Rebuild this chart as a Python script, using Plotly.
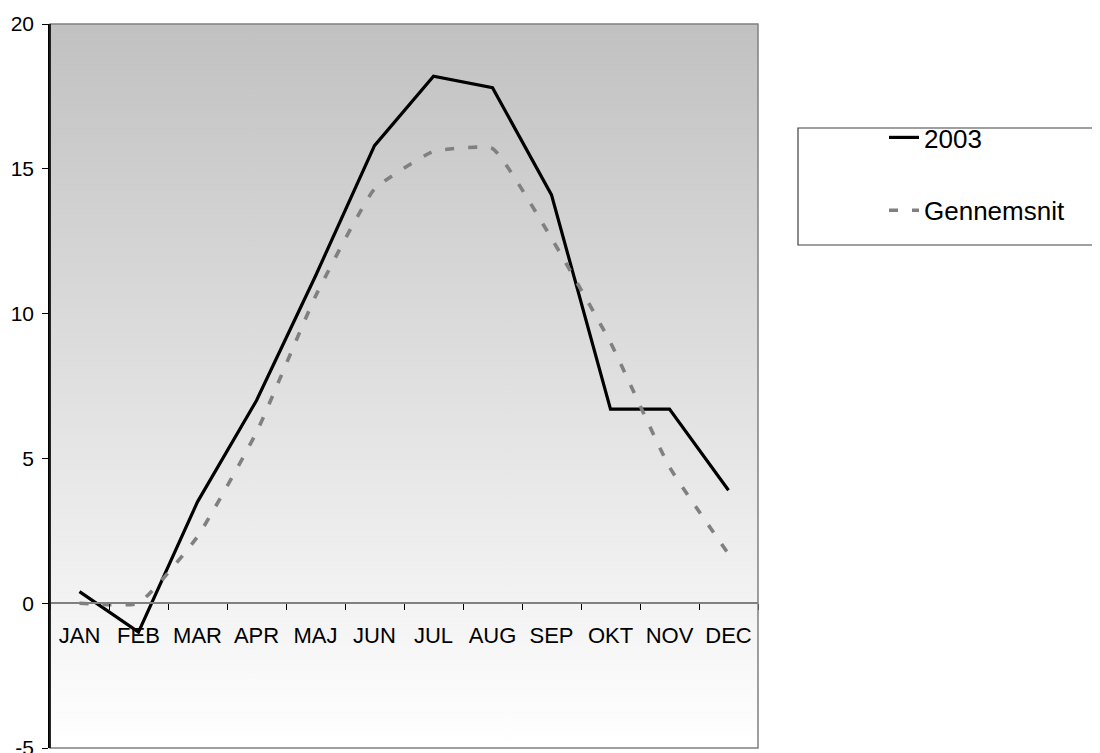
import base64
import plotly.graph_objects as go

months = ["JAN", "FEB", "MAR", "APR", "MAJ", "JUN", "JUL", "AUG", "SEP", "OKT", "NOV", "DEC"]
values_2003 = [0.4, -1.0, 3.5, 7.0, 11.3, 15.8, 18.2, 17.8, 14.1, 6.7, 6.7, 3.9]
values_avg = [0.0, 0.0, 2.3, 5.9, 10.6, 14.3, 15.6, 15.7, 12.6, 9.0, 4.7, 1.7]
y_ticks = [-5, 0, 5, 10, 15, 20]
y_tick_labels = ["-5", "0", "5", "10", "15", "20"]
name_2003 = "2003"
name_avg = "Gennemsnit"

FONT = "Liberation Sans, Arial, sans-serif"

svg = ('<svg xmlns="http://www.w3.org/2000/svg" width="100" height="100" preserveAspectRatio="none">'
       '<defs><linearGradient id="g" x1="0" y1="0" x2="0" y2="1">'
       '<stop offset="0" stop-color="#c1c1c1"/><stop offset="1" stop-color="#ffffff"/>'
       '</linearGradient></defs><rect width="100" height="100" fill="url(#g)"/></svg>')
svg_uri = "data:image/svg+xml;base64," + base64.b64encode(svg.encode()).decode()

fig = go.Figure()
fig.add_trace(go.Scatter(
    x=months, y=values_2003, name=name_2003, mode="lines",
    line=dict(color="#000000", width=3.2), legendgroup="a",
))
fig.add_trace(go.Scatter(
    x=months, y=values_avg, name=name_avg, mode="lines",
    line=dict(color="#808080", width=3.6, dash="9px,14px", shape="spline", smoothing=0.4),
    legendgroup="b",
))

# page offset of the plot div (default body margin)
OFF = 8
L, R, T, B = 50 - OFF, 342, 24 - OFF, 5
W, H = 1100 - OFF, 753 - OFF
pw = W - L - R
ph = H - T - B

def px_x(p):
    return (p - OFF - L) / pw

def px_y(p):
    return (H - B - (p - OFF)) / ph

fig.update_layout(
    width=W, height=H,
    margin=dict(l=L, r=R, t=T, b=B, pad=0, autoexpand=False),
    paper_bgcolor="#ffffff",
    plot_bgcolor="rgba(0,0,0,0)",
    font=dict(family=FONT, size=21, color="#000000"),
    images=[dict(source=svg_uri, xref="paper", yref="paper", x=0, y=1, sizex=1, sizey=1,
                 xanchor="left", yanchor="top", sizing="stretch", layer="below")],
    xaxis=dict(
        type="category", range=[-0.5, 11.5], anchor="free", position=0.2,
        showline=True, linecolor="#808080", linewidth=1.5, automargin=False,
        ticks="outside", tickson="boundaries", ticklen=6, tickcolor="#000000", tickwidth=1,
        showgrid=False, zeroline=False, ticklabelstandoff=13,
        tickfont=dict(family=FONT, size=22, color="#000000"),
    ),
    yaxis=dict(
        range=[-5, 20], tickvals=y_ticks, ticktext=y_tick_labels,
        showgrid=False, zeroline=False, automargin=False,
        showline=True, linecolor="#000000", linewidth=1.5,
        ticks="outside", ticklen=6, tickcolor="#000000", tickwidth=1,
        ticklabelstandoff=4, ticklabeloverflow="allow",
        tickfont=dict(family=FONT, size=21, color="#000000"),
    ),
    showlegend=True,
    legend=dict(
        x=px_x(884), y=px_y(114), xanchor="left", yanchor="top",
        bgcolor="rgba(0,0,0,0)", borderwidth=0,
        font=dict(family=FONT, size=26, color="#000000"),
        traceorder="grouped", tracegroupgap=36, itemwidth=30,
    ),
    shapes=[
        dict(type="rect", xref="paper", yref="paper", x0=0, x1=1, y0=0, y1=1,
             line=dict(color="#808080", width=1.5), fillcolor="rgba(0,0,0,0)", layer="above"),
        dict(type="line", xref="paper", yref="paper", x0=0, x1=0, y0=0, y1=1,
             line=dict(color="#000000", width=1.5), layer="above"),
        dict(type="rect", xref="paper", yref="paper",
             x0=px_x(798), x1=px_x(1098), y0=px_y(245), y1=px_y(128),
             line=dict(color="#404040", width=1.2), fillcolor="rgba(0,0,0,0)", layer="above"),
    ],
)

fig.write_html("out.html")
